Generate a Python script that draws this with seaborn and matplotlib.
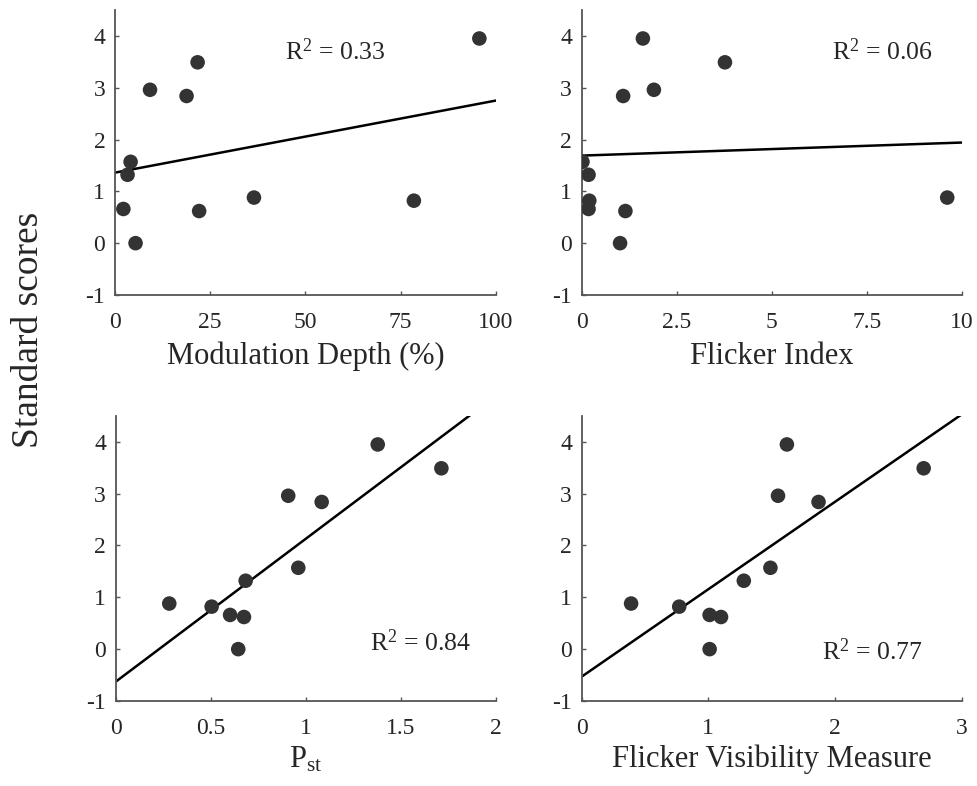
"""
Standard scores vs four flicker metrics, scatter + linear fit
"""

import numpy as np
import pandas as pd
import seaborn as sns
import matplotlib.pyplot as plt

# dados (mesma ordem de pontos em todos os paineis)
scores = [3.95, 3.49, 2.96, 2.84, 1.57, 1.32, 0.88, 0.82, 0.66, 0.62, 0.0]
mod_depth = [95.7, 21.7, 9.2, 18.8, 4.1, 3.3, 36.5, 78.5, 2.2, 22.1, 5.4]
flicker_index = [1.61, 3.77, 1.90, 1.09, 0.02, 0.18, 9.62, 0.20, 0.18, 1.15, 1.01]
pst = [1.379, 1.714, 0.908, 1.084, 0.961, 0.684, 0.282, 0.505, 0.602, 0.675, 0.645]
fvm = [1.62, 2.70, 1.55, 1.87, 1.49, 1.28, 0.39, 0.77, 1.01, 1.10, 1.01]

x_labels = ['Modulation Depth (%)', 'Flicker Index', r'P$_{\mathrm{st}}$', 'Flicker Visibility Measure']
r2_labels = ['0.33', '0.06', '0.84', '0.77']
x_limits = [(0, 100), (0, 10), (0, 2), (0, 3)]
x_ticks = [[0, 25, 50, 75, 100], [0, 2.5, 5, 7.5, 10], [0, 0.5, 1, 1.5, 2], [0, 1, 2, 3]]
x_ticklabels = [['0', '25', '50', '75', '100'], ['0', '2.5', '5', '7.5', '10'],
                ['0', '0.5', '1', '1.5', '2'], ['0', '1', '2', '3']]
r2_pos = [(44.7, 3.70), (6.58, 3.70), (1.338, 0.12), (1.894, -0.05)]
y_ticks = [-1, 0, 1, 2, 3, 4]

df = pd.DataFrame({'score': scores, 'mod': mod_depth, 'fi': flicker_index, 'pst': pst, 'fvm': fvm})
cols = ['mod', 'fi', 'pst', 'fvm']

sns.set_theme(style='ticks')
plt.rcParams['font.family'] = ['Liberation Serif', 'DejaVu Serif']
plt.rcParams['mathtext.fontset'] = 'custom'
plt.rcParams['mathtext.rm'] = 'Liberation Serif'
plt.rcParams['mathtext.it'] = 'Liberation Serif:italic'
plt.rcParams['xtick.direction'] = 'in'
plt.rcParams['ytick.direction'] = 'in'

fig = plt.figure(figsize=(9.77, 7.86), dpi=100)
positions = [
    [0.1177, 0.6247, 0.3897, 0.3626],
    [0.5954, 0.6247, 0.3889, 0.3626],
    [0.1184, 0.1082, 0.3890, 0.3626],
    [0.5954, 0.1082, 0.3889, 0.3626],
]
label_pads = [6.5, 6.5, 4.5, 4.5]

spine_col = '#555555'
for i, col in enumerate(cols):
    ax = fig.add_axes(positions[i])
    ax.set_xlim(x_limits[i])
    ax.set_ylim(-1, 4.5)
    sns.regplot(data=df, x=col, y='score', ax=ax, scatter=False, ci=None,
                truncate=False, color='black', line_kws={'lw': 1.8})
    sns.scatterplot(data=df, x=col, y='score', ax=ax, s=110, color='#333333',
                    edgecolor='none', zorder=3)
    ax.set_xlim(x_limits[i])
    ax.set_ylim(-1, 4.5)
    ax.set_xticks(x_ticks[i])
    ax.set_xticklabels(x_ticklabels[i])
    ax.set_yticks(y_ticks)
    ax.set_yticklabels([str(t) for t in y_ticks])
    ax.tick_params(labelsize=17, length=3, width=1, color=spine_col)
    ax.tick_params(axis='x', pad=12)
    ax.tick_params(axis='y', pad=7)
    ax.set_xlabel(x_labels[i], fontsize=22, labelpad=label_pads[i])
    ax.set_ylabel('')
    sns.despine(ax=ax)
    for s in ['left', 'bottom']:
        ax.spines[s].set_color(spine_col)
        ax.spines[s].set_linewidth(1.3)
    ax.text(r2_pos[i][0], r2_pos[i][1], r'R$^2$ = ' + r2_labels[i],
            fontsize=18.5, va='center', ha='left')

fig.text(0.029, 0.58, 'Standard scores', rotation=90, fontsize=27,
         va='center', ha='center')

plt.savefig('out.png', dpi=100)
